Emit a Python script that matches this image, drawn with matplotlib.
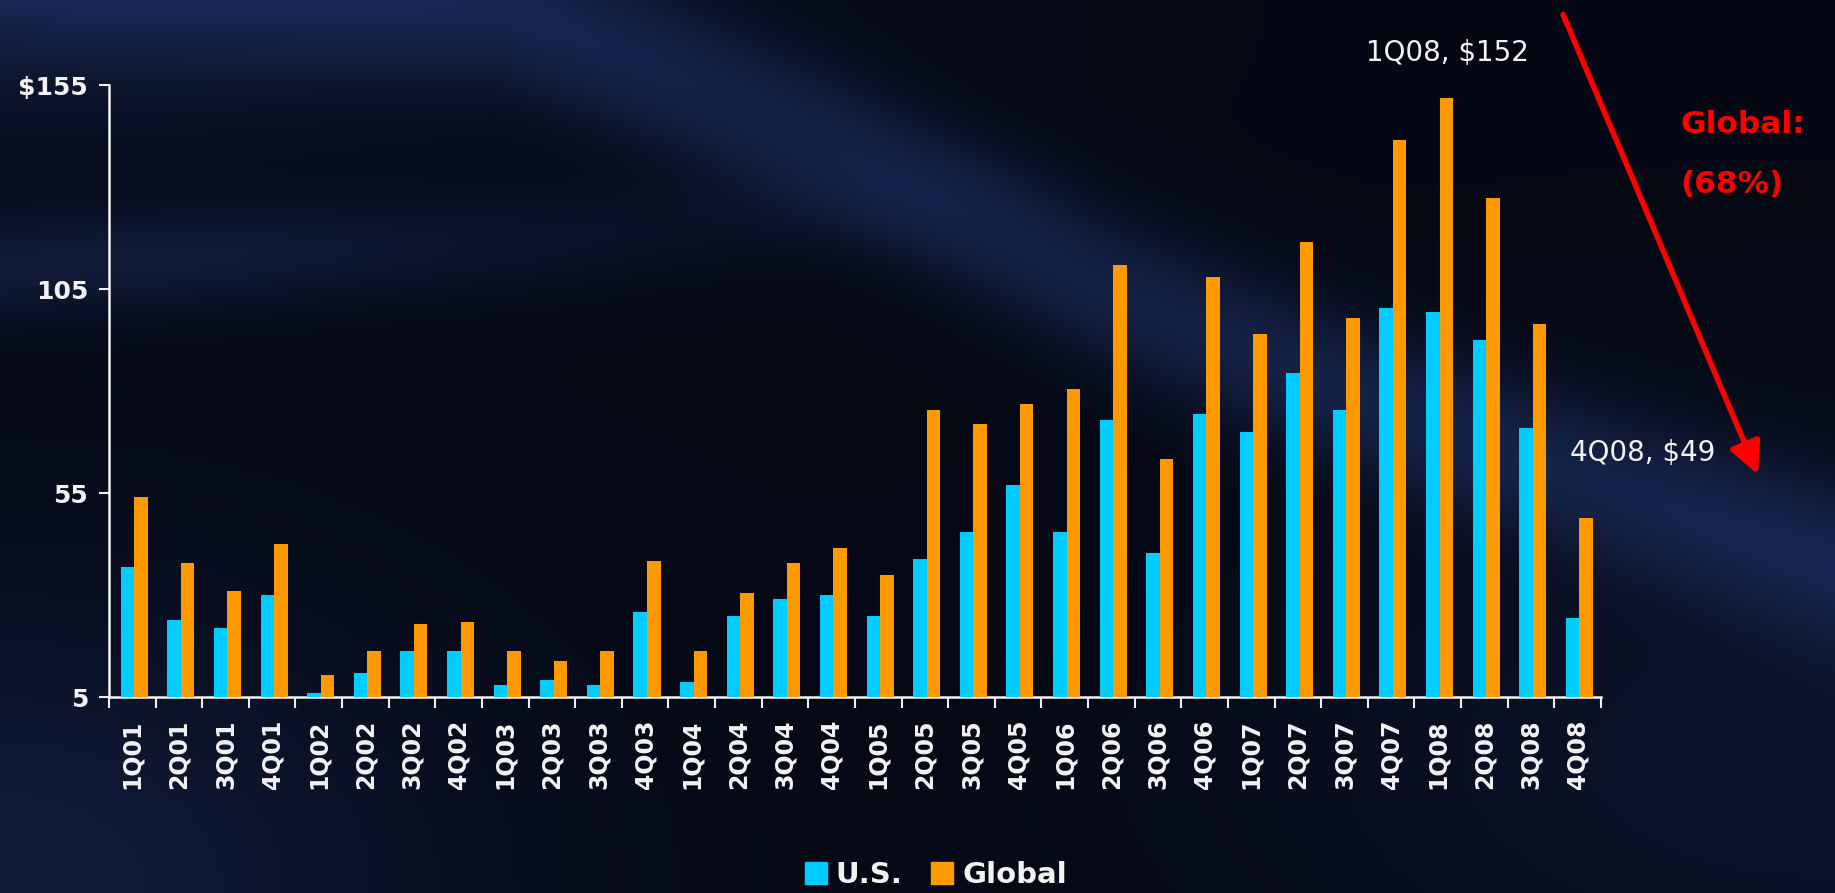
#!/usr/bin/env python3
"""
quarterly volume chart, U.S. vs Global, 1Q01 - 4Q08
"""
import numpy as np
import matplotlib
matplotlib.use('Agg')
import matplotlib.pyplot as plt
from matplotlib.patches import Patch, FancyArrowPatch

# --- data
quarters = ['1Q01', '2Q01', '3Q01', '4Q01', '1Q02', '2Q02', '3Q02', '4Q02',
            '1Q03', '2Q03', '3Q03', '4Q03', '1Q04', '2Q04', '3Q04', '4Q04',
            '1Q05', '2Q05', '3Q05', '4Q05', '1Q06', '2Q06', '3Q06', '4Q06',
            '1Q07', '2Q07', '3Q07', '4Q07', '1Q08', '2Q08', '3Q08', '4Q08']
us = [37, 24, 22, 30, 6, 11, 16.5, 16.5,
      8, 9.3, 8, 26, 8.7, 25, 29, 30,
      25, 39, 45.5, 57, 45.5, 73, 40.5, 74.5,
      70, 84.5, 75.5, 100.5, 99.5, 92.5, 71, 24.5]
glob = [54, 38, 31, 42.5, 10.5, 16.5, 23, 23.5,
        16.5, 14, 16.5, 38.5, 16.5, 30.5, 38, 41.5,
        35, 75.5, 72, 77, 80.5, 111, 63.5, 108,
        94, 116.5, 98, 141.5, 152, 127.5, 96.5, 49]
yticks = [5, 55, 105, 155]
ylabels = ['5', '55', '105', '$155']
# ---

CYAN = '#00CCFF'
ORANGE = '#FF9900'
WHITE = '#F2F2F2'
RED = '#FF0000'

plt.rcParams['font.family'] = ['DejaVu Sans']

fig = plt.figure(figsize=(18.35, 8.93), dpi=100)

# --- background: dark navy with soft lighter streaks
bg = fig.add_axes([0, 0, 1, 1], zorder=-10)
H, W = 300, 600
u = np.linspace(0, 1, W)[None, :]
v = np.linspace(0, 1, H)[:, None]
light = np.zeros((H, W))
c1 = np.interp(u, [0.0, 0.27, 0.45, 0.61, 0.77, 1.0], [-0.05, 0.0, 0.16, 0.33, 0.47, 0.63])
light += 0.75 * np.exp(-((v - c1) / 0.09) ** 2)
c2 = np.interp(u, [0.0, 0.3, 0.6], [0.30, 0.27, 0.20])
light += 0.5 * np.exp(-((v - c2) / 0.06) ** 2) * np.clip(1.2 - u * 2, 0, 1)
light += 0.45 * np.exp(-((u / 0.3) ** 2 + (v / 0.18) ** 2))
light += 0.55 * np.exp(-((u / 0.25) ** 2 + ((1 - v) / 0.35) ** 2))
light += 0.35 * np.exp(-(((u - 1) / 0.3) ** 2 + ((v - 0.85) / 0.3) ** 2))
light = np.clip(light, 0, 1)
dark = np.array([0.02, 0.035, 0.08])
lite = np.array([0.10, 0.16, 0.33])
img = dark[None, None, :] + light[:, :, None] * (lite - dark)[None, None, :]
bg.imshow(img, aspect='auto', extent=[0, 1, 0, 1], interpolation='bilinear')
bg.set_axis_off()

# --- bars
ax = fig.add_axes([0.0594, 0.219, 0.813, 0.6855])
ax.set_facecolor('none')
x = np.arange(len(quarters))
w = 0.29
ax.bar(x - w / 2 + 0.04, us, w, color=CYAN, zorder=3)
ax.bar(x + w / 2 + 0.04, glob, w, color=ORANGE, zorder=3)

ax.set_xlim(-0.5, len(quarters) - 0.5)
ax.set_ylim(5, 155)
ax.set_yticks(yticks)
ax.set_yticklabels(ylabels, color=WHITE, fontsize=18, fontweight='bold')
ax.tick_params(axis='y', length=7, width=1.5, color=WHITE, pad=8)

ax.set_xticks(x)
ax.set_xticklabels(quarters, rotation=90, color=WHITE, fontsize=17, fontweight='bold')
ax.set_xticks(np.arange(-0.5, len(quarters)), minor=True)
ax.tick_params(axis='x', which='major', length=0, pad=16)
ax.tick_params(axis='x', which='minor', length=8, width=1.5, color=WHITE)

for s in ['top', 'right']:
    ax.spines[s].set_visible(False)
for s in ['left', 'bottom']:
    ax.spines[s].set_color(WHITE)
    ax.spines[s].set_linewidth(1.8)

# --- annotations
ax.text(28.2, 163, '1Q08, $152', color=WHITE, fontsize=20, ha='center', va='center', clip_on=False)
ax.text(32.4, 65, '4Q08, $49', color=WHITE, fontsize=20, ha='center', va='center', clip_on=False)
fig.text(0.916, 0.861, 'Global:', color=RED, fontsize=22.5, fontweight='bold', ha='left', va='center')
fig.text(0.916, 0.793, '(68%)', color=RED, fontsize=22.5, fontweight='bold', ha='left', va='center')
fig.add_artist(FancyArrowPatch(
    (1562 / 1835, 1 - 12 / 893), (1759 / 1835, 1 - 477 / 893),
    transform=fig.transFigure, arrowstyle='-|>,head_length=12,head_width=6',
    color=RED, lw=4, mutation_scale=1.6))

# --- legend
handles = [Patch(color=CYAN, label='U.S.'), Patch(color=ORANGE, label='Global')]
fig.legend(handles=handles, loc='center', bbox_to_anchor=(0.51, 0.02), ncol=2, frameon=False,
           handlelength=0.75, handleheight=0.75, handletextpad=0.3, columnspacing=1.0,
           prop={'size': 21, 'weight': 'bold'}, labelcolor=WHITE)

fig.savefig('out.png', dpi=100)
